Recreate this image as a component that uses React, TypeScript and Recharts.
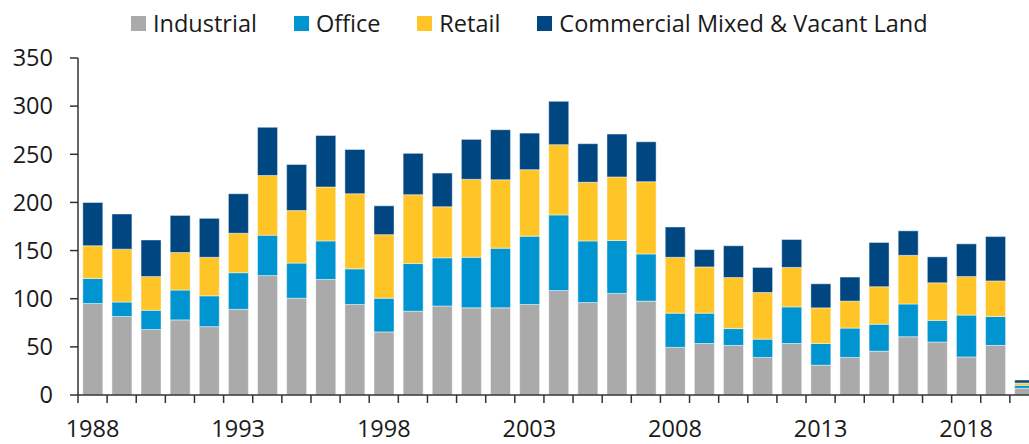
import React from "react";
import { BarChart, Bar, XAxis, YAxis, Legend } from "recharts";

const years = [
  "1988", "1989", "1990", "1991", "1992", "1993", "1994", "1995", "1996", "1997", "1998",
  "1999", "2000", "2001", "2002", "2003", "2004", "2005", "2006", "2007", "2008", "2009",
  "2010", "2011", "2012", "2013", "2014", "2015", "2016", "2017", "2018", "2019", "2020",
];
const industrial = [95, 81.5, 68, 78, 71, 89, 124, 100.5, 120, 94, 65.5, 87, 92.5, 90.5, 90.5, 94, 108.5, 96, 105.5, 97.5, 49.5, 53.5, 51.5, 39, 53.5, 31, 39, 45.5, 60.5, 55, 39.5, 51.5, 7];
const office = [26, 15, 20, 31, 32, 38, 42, 36.5, 40, 37, 35, 49.5, 50, 52.5, 62, 71, 78.5, 64, 55, 49, 35.5, 31.5, 17.5, 19, 38, 22.5, 30.5, 28, 34, 22.5, 43.5, 30, 3];
const retail = [34, 55, 35, 39, 40, 41, 62, 54.5, 56, 78, 66, 71.5, 53, 81, 71, 69, 73, 61, 66, 75, 58, 48, 53, 48.5, 41, 37, 28, 39, 50.5, 39, 40, 37, 2.5];
const mixed = [45, 36.5, 38, 38.5, 40.5, 41, 50, 48, 53.5, 46, 30, 43, 35, 41.5, 52, 38, 45, 40, 44.5, 41.5, 31.5, 18, 33, 26, 29, 25, 25, 46, 25.5, 27, 34, 46, 3];
const yTicks = [0, 50, 100, 150, 200, 250, 300, 350];

const series = [
  { key: "industrial", name: "Industrial", color: "#AAAAAA" },
  { key: "office", name: "Office", color: "#0094D0" },
  { key: "retail", name: "Retail", color: "#FFC426" },
  { key: "mixed", name: "Commercial Mixed & Vacant Land", color: "#004680" },
];

const data = years.map((year, i) => ({
  year,
  industrial: industrial[i],
  office: office[i],
  retail: retail[i],
  mixed: mixed[i],
}));

const FONT = "'Open Sans', 'Noto Sans', sans-serif";
const FS = 23.5;
const CHART_W = 1045;
const PLOT_LEFT = 78;
const PLOT_RIGHT = 1039;
const HALF_BAND = (PLOT_RIGHT - PLOT_LEFT) / years.length / 2;

// category ticks sit between bars, labels every 5 years
function XTick(props: any) {
  const { x, y, payload } = props;
  const half = payload && payload.offset ? payload.offset : HALF_BAND;
  const yr = Number(payload.value);
  const showLabel = (yr - 1988) % 5 === 0;
  return (
    <g>
      <line x1={x - half} x2={x - half} y1={y - 8} y2={y} stroke="#333" strokeWidth={1.5} />
      {showLabel && (
        <text x={x} y={y + 34} textAnchor="middle" fill="#1a1a1a" fontSize={FS} fontFamily={FONT}>
          {payload.value}
        </text>
      )}
    </g>
  );
}

function renderLegend() {
  return (
    <div style={{ height: 51, display: "flex", alignItems: "flex-start", paddingLeft: 131, fontFamily: FONT }}>
      {series.map((s) => (
        <div key={s.key} style={{ display: "flex", alignItems: "center", height: 32, marginRight: 37 }}>
          <span style={{ display: "inline-block", width: 15, height: 15, background: s.color, marginRight: 7 }} />
          <span style={{ fontSize: FS, color: "#1a1a1a", whiteSpace: "nowrap" }}>{s.name}</span>
        </div>
      ))}
    </div>
  );
}

export default function App() {
  return (
    <div style={{ position: "absolute", left: 0, top: 0, width: 1029, height: 444, overflow: "hidden", background: "#fff" }}>
      <BarChart
        width={CHART_W}
        height={444}
        data={data}
        margin={{ top: 7, right: CHART_W - PLOT_RIGHT, left: 0, bottom: 0 }}
        barCategoryGap="16.5%"
      >
        <Legend verticalAlign="top" align="left" content={renderLegend} />
        <XAxis
          dataKey="year"
          interval={0}
          height={49}
          tickLine={false}
          tickSize={8}
          tickMargin={0}
          axisLine={{ stroke: "#333", strokeWidth: 1.5 }}
          tick={<XTick />}
        />
        <YAxis
          width={PLOT_LEFT}
          domain={[0, 350]}
          ticks={yTicks}
          interval={0}
          tickSize={8}
          tickMargin={17}
          axisLine={{ stroke: "#333", strokeWidth: 1.5 }}
          tickLine={{ stroke: "#333", strokeWidth: 1.5 }}
          tick={{ fontSize: FS, fill: "#1a1a1a", fontFamily: FONT }}
        />
        {series.map((s) => (
          <Bar
            key={s.key}
            dataKey={s.key}
            name={s.name}
            stackId="a"
            fill={s.color}
            stroke="#ffffff"
            strokeOpacity={0.6}
            strokeWidth={0.75}
            isAnimationActive={false}
          />
        ))}
      </BarChart>
    </div>
  );
}
